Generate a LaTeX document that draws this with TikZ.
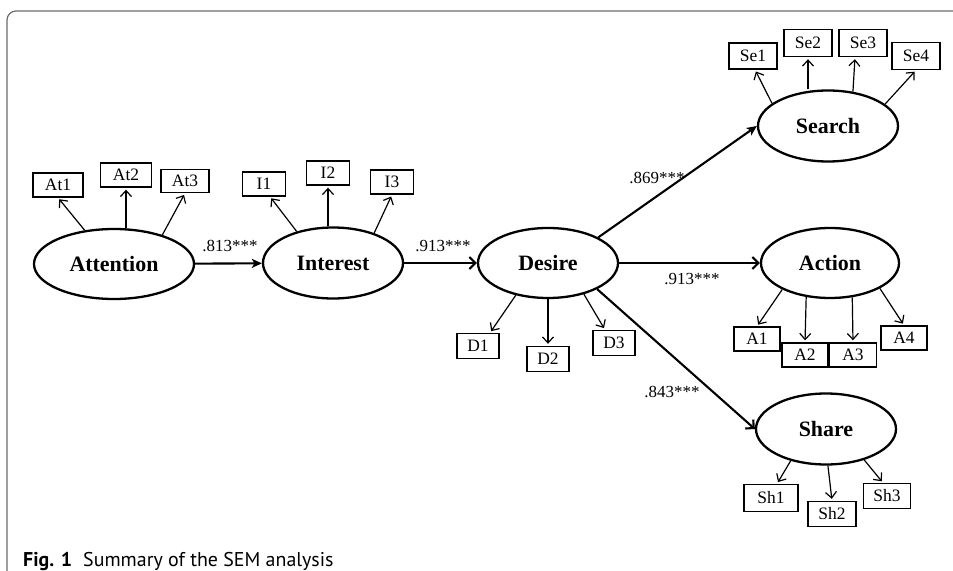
\documentclass[tikz,border=0pt]{standalone}
\usepackage{fontspec}
\setmainfont{Liberation Serif}
\newfontfamily\capfont{PT Sans}
\usetikzlibrary{shapes.geometric,arrows.meta}
\begin{document}
\begin{tikzpicture}[x=1bp,y=-1bp,
  lat/.style={ellipse,draw,line width=2.3bp,inner sep=0pt,minimum width=140bp,minimum height=71bp,font=\fontsize{22}{26}\selectfont\bfseries},
  ind/.style={rectangle,draw,line width=1.4bp,inner sep=0pt,minimum width=48bp,minimum height=25bp,font=\fontsize{17.5}{20}\selectfont},
  reg/.style={line width=2.1bp,-{Stealth[length=10bp,width=9bp,inset=2.5bp]}},
  regb/.style={line width=2.1bp,-{Straight Barb[length=6bp,width=12bp]}},
  load/.style={line width=1.2bp,-{Straight Barb[length=6bp,width=11bp]},shorten >=2bp},
  coef/.style={font=\fontsize{17}{20}\selectfont}]
\useasboundingbox (0,0) rectangle (953,571);
\draw[gray!85!black, line width=1.2bp, rounded corners=9bp] (7,571) -- (7,11) -- (953,11);

% latent variables
\node[lat, minimum width=160bp, minimum height=70bp] (att) at (114,264) {Attention};
\node[lat] (int) at (333,263) {Interest};
\node[lat, minimum height=70bp] (des) at (548,263) {Desire};
\node[lat] (sea) at (828,126) {Search};
\node[lat, minimum width=138bp, minimum height=70bp] (act) at (830,263) {Action};
\node[lat] (sha) at (826,429) {Share};

% indicators
\node[ind, minimum width=50bp, minimum height=24bp] (at1) at (58,185) {At1};
\node[ind, minimum width=51bp, minimum height=24bp] (at2) at (126,175) {At2};
\node[ind, minimum width=48bp, minimum height=23bp] (at3) at (185,181) {At3};
\node[ind, minimum width=43bp, minimum height=24bp] (i1) at (264,184) {I1};
\node[ind, minimum width=43bp, minimum height=24bp] (i2) at (328,173) {I2};
\node[ind, minimum width=43bp, minimum height=24bp] (i3) at (392,182) {I3};
\node[ind, minimum width=42bp] (d1) at (478,346) {D1};
\node[ind, minimum width=42bp] (d2) at (548,359) {D2};
\node[ind, minimum width=42bp] (d3) at (614,343) {D3};
\node[ind, minimum height=26bp] (se1) at (753,56) {Se1};
\node[ind, minimum height=27bp] (se2) at (808,43) {Se2};
\node[ind, minimum height=27bp] (se3) at (863,43) {Se3};
\node[ind, minimum height=27bp] (se4) at (916,56) {Se4};
\node[ind, minimum width=46bp, minimum height=24bp] (a1) at (757,339) {A1};
\node[ind, minimum width=46bp, minimum height=24bp] (a2) at (805,355) {A2};
\node[ind, minimum width=47bp, minimum height=24bp] (a3) at (853,355) {A3};
\node[ind, minimum width=46bp, minimum height=24bp] (a4) at (904,338) {A4};
\node[ind, minimum width=54bp, minimum height=27bp] (sh1) at (771,498) {Sh1};
\node[ind, minimum width=48bp, minimum height=25bp] (sh2) at (832,514) {Sh2};
\node[ind, minimum width=47bp, minimum height=25bp] (sh3) at (887,496) {Sh3};

% structural paths
\draw[reg] (att) -- (int);
\draw[regb] (int) -- (des);
\draw[regb] (des) -- (act);
\draw[reg] (des.27.5) -- (sea.west);
\draw[regb] (des.-28) -- (sha.west);

% loadings
\draw[load] (att.131) -- (at1.south);
\draw[load] (at2.south |- att.north) -- (at2.south);
\draw[load] (att.31) -- (at3.south);
\draw[load] (int.139) -- ([xshift=6bp]i1.south);
\draw[load] (i2.south |- int.north) -- (i2.south);
\draw[load] (int.36) -- (i3.south);
\draw[load] (des.225) -- ([xshift=12bp]d1.north);
\draw[load] (d2.north |- des.south) -- (d2.north);
\draw[load] (des.-41) -- ([xshift=-9bp]d3.north);
\draw[load] (sea.158) -- ([xshift=2bp]se1.south);
\draw[load] (se2.south |- sea.north) -- (se2.south);
\draw[load] (sea.54) -- ([xshift=-8bp]se3.south);
\draw[load] (sea.21) -- (se4.south);
\draw[load] (act.209) -- (a1.north);
\draw[load] (act.235) -- (a2.north);
\draw[load] (act.-57) -- (a3.north);
\draw[load] (act.-27) -- (a4.north);
\draw[load] (sha.222) -- ([xshift=6bp]sh1.north);
\draw[load] (sha.-87) -- (sh2.north);
\draw[load] (sha.-39) -- ([xshift=-4bp]sh3.north);

% coefficients
\node[coef] (c1) at (230,246) {.813***};
\node[coef] (c2) at (443,246) {.913***};
\node[coef] (c3) at (657,178) {.869***};
\node[coef] (c4) at (692,279) {.913***};
\node[coef] (c5) at (672,392) {.843***};

% caption
\node[anchor=base west, inner sep=0pt, font=\capfont\fontsize{20}{24}\selectfont] (cap) at (23,566) {\textbf{Fig. 1}\hspace{0.55em}Summary of the SEM analysis};
\end{tikzpicture}
\end{document}
